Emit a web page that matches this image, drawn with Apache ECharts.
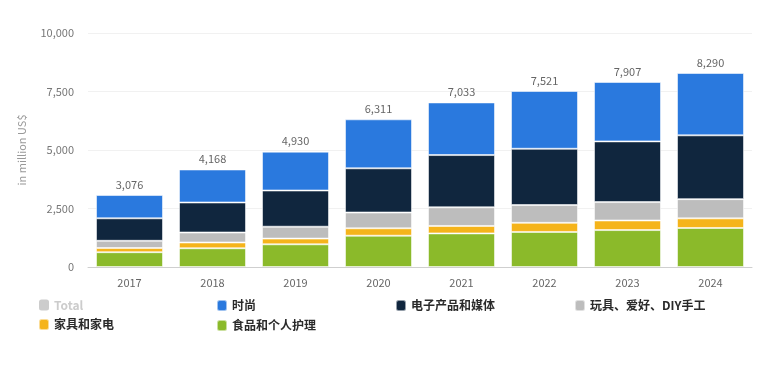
<!DOCTYPE html>
<html>
<head>
<meta charset="utf-8">
<script src="https://cdn.jsdelivr.net/npm/echarts@6/dist/echarts.min.js"></script>
<style>
html,body{margin:0;padding:0;background:#fff;}
#chart{width:775px;height:370px;}
</style>
</head>
<body>
<div id="chart"></div>
<script>
const years = ['2017','2018','2019','2020','2021','2022','2023','2024'];
const totals = [3076, 4168, 4930, 6311, 7033, 7521, 7907, 8290];
const food = [632, 800, 970, 1338, 1436, 1498, 1578, 1668];
const furniture = [180, 248, 244, 316, 318, 390, 410, 410];
const toys = [308, 427, 508, 675, 798, 760, 787, 822];
const electronics = [961, 1282, 1547, 1889, 2232, 2405, 2593, 2727];
const fashion = [995, 1411, 1661, 2093, 2249, 2468, 2539, 2663];
const yTicks = [0, 2500, 5000, 7500, 10000];

const names = {
  total: 'Total',
  fashion: '时尚',
  electronics: '电子产品和媒体',
  toys: '玩具、爱好、DIY手工',
  furniture: '家具和家电',
  food: '食品和个人护理'
};
const colors = {
  fashion: '#2a79de',
  electronics: '#10263e',
  toys: '#bdbdbd',
  furniture: '#f5b41b',
  food: '#8bba2a',
  total: '#bdbdbd'
};

const font = '"Noto Sans CJK SC", "Noto Sans", sans-serif';
const chart = echarts.init(document.getElementById('chart'), null, {renderer: 'canvas'});

function barSeries(key, data, extra) {
  return Object.assign({
    name: names[key],
    type: 'bar',
    stack: 'all',
    data: data,
    barWidth: 67,
    itemStyle: {color: colors[key], borderColor: 'rgba(255,255,255,0.55)', borderWidth: 1},
    emphasis: {disabled: true}
  }, extra || {});
}

function legendCol(left, items) {
  return {
    left: left, top: 294, orient: 'vertical',
    itemWidth: 10, itemHeight: 11, itemGap: 7,
    icon: 'roundRect',
    textStyle: {fontFamily: font, fontSize: 12, color: '#2a2a2a', fontWeight: 'bold'},
    inactiveColor: '#cccccc',
    selected: {'Total': false},
    data: items
  };
}

chart.setOption({
  animation: false,
  grid: {left: 88, right: 23, top: 33, bottom: 103, containLabel: false},
  legend: [
    legendCol(33, [names.total, names.furniture]),
    legendCol(211, [names.fashion, names.food]),
    legendCol(390, [names.electronics]),
    legendCol(569, [names.toys])
  ],
  xAxis: {
    type: 'category',
    data: years,
    axisLine: {lineStyle: {color: '#cfcfcf'}},
    axisTick: {show: false},
    axisLabel: {color: '#666', fontSize: 11, fontFamily: font, margin: 10}
  },
  yAxis: {
    type: 'value',
    min: 0, max: 10000, interval: 2500,
    name: 'in million US$',
    nameLocation: 'middle',
    nameGap: 61,
    nameTextStyle: {color: '#999', fontSize: 11, fontFamily: font},
    axisLine: {show: false},
    axisTick: {show: false},
    splitLine: {lineStyle: {color: '#f1f1f1'}},
    axisLabel: {
      color: '#777', fontSize: 11, fontFamily: font, margin: 14,
      formatter: v => yTicks.includes(v) ? v.toLocaleString('en-US') : ''
    }
  },
  series: [
    {name: names.total, type: 'line', data: totals, symbol: 'none', lineStyle: {opacity: 0}, itemStyle: {color: colors.total}},
    barSeries('food', food),
    barSeries('furniture', furniture),
    barSeries('toys', toys),
    barSeries('electronics', electronics),
    barSeries('fashion', fashion, {
      label: {
        show: true, position: 'top', distance: 5,
        color: '#666', fontSize: 11, fontFamily: font,
        formatter: p => totals[p.dataIndex].toLocaleString('en-US')
      }
    })
  ]
});
</script>
</body>
</html>
